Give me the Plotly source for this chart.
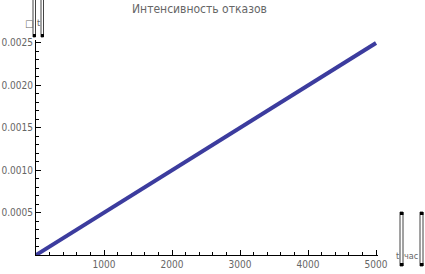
import plotly.graph_objects as go

# data
t_hours = [0, 5000]
intensity = [0.0, 0.0025]
x_tick_vals = [1000, 2000, 3000, 4000, 5000]
x_tick_text = ["1000", "2000", "3000", "4000", "5000"]
y_tick_vals = [0.0005, 0.0010, 0.0015, 0.0020, 0.0025]
y_tick_text = ["0.0005", "0.0010", "0.0015", "0.0020", "0.0025"]
title_text = "Интенсивность отказов"

W, H = 425, 274
L, R, T, B = 36, 47, 40, 19

def px(x):
    return (x - L) / (W - L - R)

def py(y):
    return (H - B - y) / (H - T - B)

FONT = "Liberation Sans Narrow, DejaVu Sans Condensed, sans-serif"
GRAY = "#666666"

fig = go.Figure()
fig.add_trace(go.Scatter(x=t_hours, y=intensity, mode="lines",
                         line=dict(color="#3c3c9e", width=4), showlegend=False,
                         hoverinfo="skip"))

fig.update_layout(
    width=W, height=H,
    margin=dict(l=L, r=R, t=T, b=B, autoexpand=False),
    paper_bgcolor="white", plot_bgcolor="white",
    xaxis=dict(range=[0, 5029], showgrid=False, zeroline=False, automargin=False,
               showline=True, linecolor="black", linewidth=1,
               tickvals=x_tick_vals, ticktext=x_tick_text,
               ticks="inside", ticklen=5, tickcolor="black",
               minor=dict(dtick=200, tick0=0, ticks="inside", ticklen=3, tickcolor="black"),
               tickfont=dict(family=FONT, size=10, color=GRAY)),
    yaxis=dict(range=[0, 0.002535], showgrid=False, zeroline=False, automargin=False,
               showline=True, linecolor="black", linewidth=1,
               tickvals=y_tick_vals, ticktext=y_tick_text,
               ticks="inside", ticklen=5, tickcolor="black",
               minor=dict(dtick=0.0001, tick0=0, ticks="inside", ticklen=3, tickcolor="black"),
               tickfont=dict(family=FONT, size=10, color=GRAY)),
)

annotations = [
    dict(x=px(199), y=py(9), text=title_text, font=dict(family=FONT, size=12, color=GRAY)),
    dict(x=px(29.5), y=py(23.5), text="□", font=dict(family=FONT, size=10, color=GRAY)),
    dict(x=px(38.5), y=py(23.5), text="t", font=dict(family=FONT, size=9, color=GRAY)),
    dict(x=px(397.5), y=py(256), text="t", font=dict(family=FONT, size=9, color=GRAY)),
    dict(x=px(410.5), y=py(256), text="час", font=dict(family=FONT, size=9, color=GRAY)),
]
for a in annotations:
    a.update(xref="paper", yref="paper", showarrow=False, xanchor="center", yanchor="middle")
fig.update_layout(annotations=annotations)

shapes = []
for (x0, x1, y0, y1) in [(33, 35.5, -2, 37), (41, 43.5, -2, 37), (400, 403, 212, 266), (420, 423, 212, 266)]:
    shapes.append(dict(type="rect", xref="paper", yref="paper",
                       x0=px(x0), x1=px(x1), y0=py(y0), y1=py(y1),
                       line=dict(color="#444444", width=1), fillcolor="white"))
    for yy in ([y1 - 3] if y0 < 0 else [y0, y1 - 3]):
        shapes.append(dict(type="rect", xref="paper", yref="paper",
                           x0=px(x0), x1=px(x1 + 0.5), y0=py(yy), y1=py(yy + 3),
                           line=dict(width=0), fillcolor="black"))
fig.update_layout(shapes=shapes)

fig.write_html("out.html")
